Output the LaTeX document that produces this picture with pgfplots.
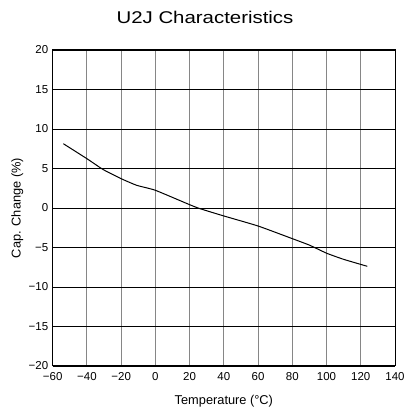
\documentclass[border=0pt]{standalone}
\usepackage{fontspec}
\setmainfont{Liberation Sans}
\newfontfamily\titlefont[FakeStretch=1.2]{Liberation Sans}
\usepackage{pgfplots}
\pgfplotsset{compat=1.18}
\begin{document}
\begin{tikzpicture}[x=1pt,y=1pt]
\begin{axis}[
  at={(0,0)}, anchor=south west,
  scale only axis,
  width=342.3pt, height=316pt,
  xmin=-60, xmax=140, ymin=-20, ymax=20,
  xtick={-60,-40,...,140}, ytick={-20,-15,...,20},
  xticklabels={−60,−40,−20,0,20,40,60,80,100,120,140},
  yticklabels={−20,−15,−10,−5,0,5,10,15,20},
  tick style={draw=none},
  ticklabel style={font=\fontsize{11.5}{13}\selectfont},
  xticklabel style={anchor=base, yshift=-15pt},
  yticklabel style={anchor=east, xshift=-1pt},
  grid=major,
  x grid style={draw=gray!95, line width=1pt},
  y grid style={draw=black, line width=0.9pt},
  axis line style={black, line width=1pt},
  xlabel={Temperature (°C)},
  ylabel={Cap. Change (\%)},
  label style={font=\fontsize{12.8}{15}\selectfont},
  xlabel style={at={(rel axis cs:0.5,0)}, anchor=base, yshift=-38pt},
  ylabel style={at={(rel axis cs:0,0.5)}, anchor=center, yshift=35.5pt},
  clip=false,
]
\addplot[black, line width=1pt, smooth, tension=0.3] coordinates {
(-53.8,8.14) (-40,6.24) (-30.4,4.85) (-20,3.71) (-10.9,2.87) (0,2.24)
(20,0.42) (26,-0.08) (40,-1.01) (60,-2.28) (80,-3.88) (90,-4.7)
(100,-5.72) (110,-6.5) (123.8,-7.38)
};
\end{axis}
\node[anchor=base, font=\titlefont\fontsize{17}{20}\selectfont] at (152.3,342.7) {U2J Characteristics};
\path[use as bounding box] (-52.7,-45) rectangle (354.3,366);
\end{tikzpicture}
\end{document}
